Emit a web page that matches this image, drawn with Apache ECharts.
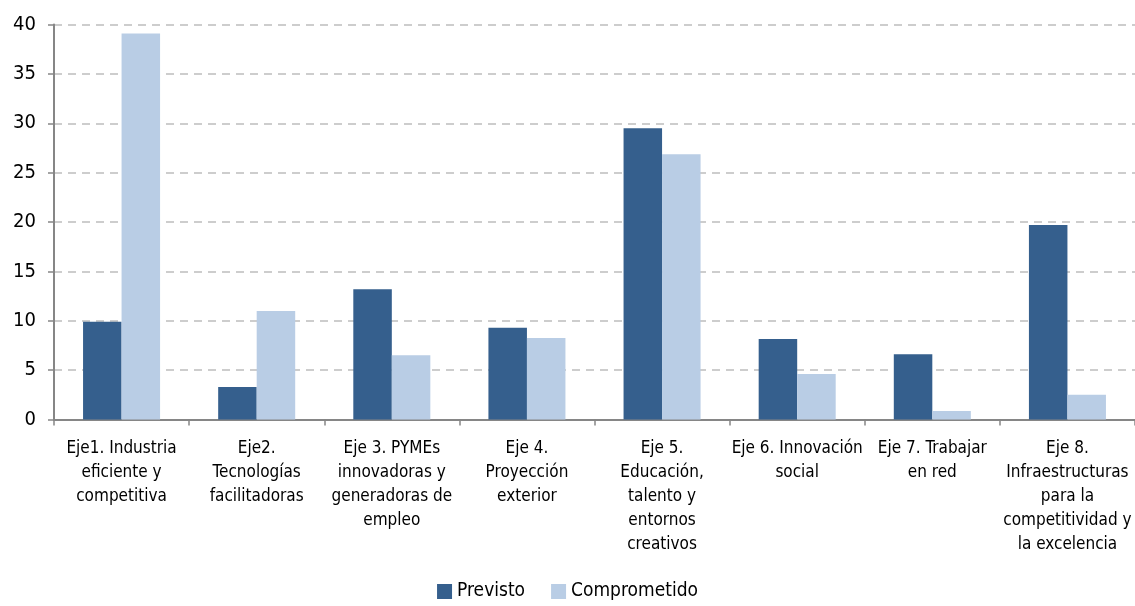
<!DOCTYPE html>
<html>
<head>
<meta charset="utf-8">
<script src="https://cdn.jsdelivr.net/npm/echarts@6/dist/echarts.min.js"></script>
<style>
  html, body { margin: 0; padding: 0; background: #fff; }
  #chart { width: 1135px; height: 606px; }
</style>
</head>
<body>
<div id="chart"></div>
<script>
  const categories = [
    'Eje1. Industria\neficiente y\ncompetitiva',
    'Eje2.\nTecnologías\nfacilitadoras',
    'Eje 3. PYMEs\ninnovadoras y\ngeneradoras de\nempleo',
    'Eje 4.\nProyección\nexterior',
    'Eje 5.\nEducación,\ntalento y\nentornos\ncreativos',
    'Eje 6. Innovación\nsocial',
    'Eje 7. Trabajar\nen red',
    'Eje 8.\nInfraestructuras\npara la\ncompetitividad y\nla excelencia',
  ];
  const previsto = [9.9, 3.3, 13.2, 9.3, 29.5, 8.15, 6.6, 19.7];
  const comprometido = [39.1, 11.0, 6.5, 8.25, 26.85, 4.6, 0.86, 2.5];
  const yTicks = [0, 5, 10, 15, 20, 25, 30, 35, 40];

  const font = '"Liberation Sans Narrow", "Arial Narrow", "DejaVu Sans Condensed", sans-serif';

  const chart = echarts.init(document.getElementById('chart'));

  chart.setOption({
    animation: false,
    textStyle: { fontFamily: font },
    grid: {
      left: 54,
      right: -8,
      top: 24.5,
      bottom: 186.5,
      containLabel: false,
    },
    legend: {
      bottom: 0,
      left: 'center',
      itemWidth: 15,
      itemHeight: 15,
      itemGap: 26,
      icon: 'rect',
      textStyle: { fontFamily: font, fontSize: 19, color: '#000' },
      data: ['Previsto', 'Comprometido'],
    },
    xAxis: {
      type: 'category',
      data: categories,
      axisLine: { lineStyle: { color: '#868686', width: 2 } },
      axisTick: { show: true, length: 6, lineStyle: { color: '#868686', width: 1.5 } },
      axisLabel: {
        interval: 0,
        margin: 17,
        fontSize: 17,
        lineHeight: 24,
        color: '#000',
        fontFamily: font,
      },
    },
    yAxis: {
      type: 'value',
      min: yTicks[0],
      max: yTicks[yTicks.length - 1],
      interval: 5,
      axisLine: { show: true, lineStyle: { color: '#868686', width: 2 } },
      axisTick: { show: true, length: 6, lineStyle: { color: '#868686', width: 1.5 } },
      axisLabel: { fontSize: 20, color: '#000', margin: 18, fontFamily: font },
      splitLine: {
        lineStyle: { color: '#BDBDBD', type: [8, 6], width: 1.6 },
      },
    },
    series: [
      {
        name: 'Previsto',
        type: 'bar',
        data: previsto,
        barGap: '0%',
        barCategoryGap: '43%',
        itemStyle: { color: '#355F8D' },
      },
      {
        name: 'Comprometido',
        type: 'bar',
        data: comprometido,
        barGap: '0%',
        barCategoryGap: '43%',
        itemStyle: { color: '#B9CDE5' },
      },
    ],
  });
</script>
</body>
</html>
